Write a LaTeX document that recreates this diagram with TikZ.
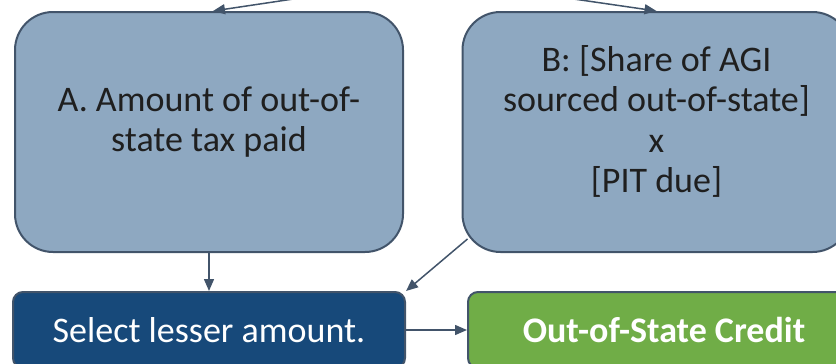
\documentclass[tikz,border=0pt]{standalone}
\usepackage{fontspec}
\setmainfont{Carlito}
\usetikzlibrary{arrows.meta}

\definecolor{boxblue}{RGB}{142,168,193}
\definecolor{boxedge}{RGB}{66,84,106}
\definecolor{navy}{RGB}{23,73,122}
\definecolor{credgreen}{RGB}{112,173,71}

\begin{document}
\begin{tikzpicture}[x=0.5pt, y=-0.5pt,
  every node/.style={font=\fontsize{18}{20.3}\selectfont},
  inbox/.style={draw=boxedge, line width=1pt, fill=boxblue, rounded corners=19pt,
    minimum width=194pt, minimum height=120pt, align=center, text=black!88,
    text depth=13pt},
  outbox/.style={draw=boxedge, line width=1pt, rounded corners=5pt,
    minimum width=196pt, minimum height=38pt, text=white},
  link/.style={-{Triangle[length=6pt,width=5pt]}, draw=boxedge, line width=0.75pt}]
  \useasboundingbox (0,0) rectangle (836,364);
  \clip (0,0) rectangle (836,364);

  % two inputs
  \node[inbox] (amtA) at (209,132) {A. Amount of out-of-\\state tax paid};
  \node[inbox] (shareB) at (656.5,132) {B: [Share of AGI\\sourced out-of-state]\\x\\{}[PIT due]};

  % result row
  \node[outbox, fill=navy] (lesser) at (209,330) {Select lesser amount.};
  \node[outbox, fill=credgreen, font=\fontsize{18}{20.3}\selectfont\bfseries] (credit) at (664,330) {Out-of-State Credit};

  % feeds from above
  \coordinate (feedA) at (300,-2);
  \coordinate (feedB) at (560,-3);
  \draw[link] (feedA) -- ([xshift=2pt]amtA.north);
  \draw[link] (feedB) -- (shareB.north);

  \draw[link] (amtA.south) -- (lesser.north);
  \draw[link] ([shift={(6,-14)}]shareB.south west) -- (lesser.north east);
  \draw[link] (lesser.east) -- (credit.west);
\end{tikzpicture}
\end{document}
